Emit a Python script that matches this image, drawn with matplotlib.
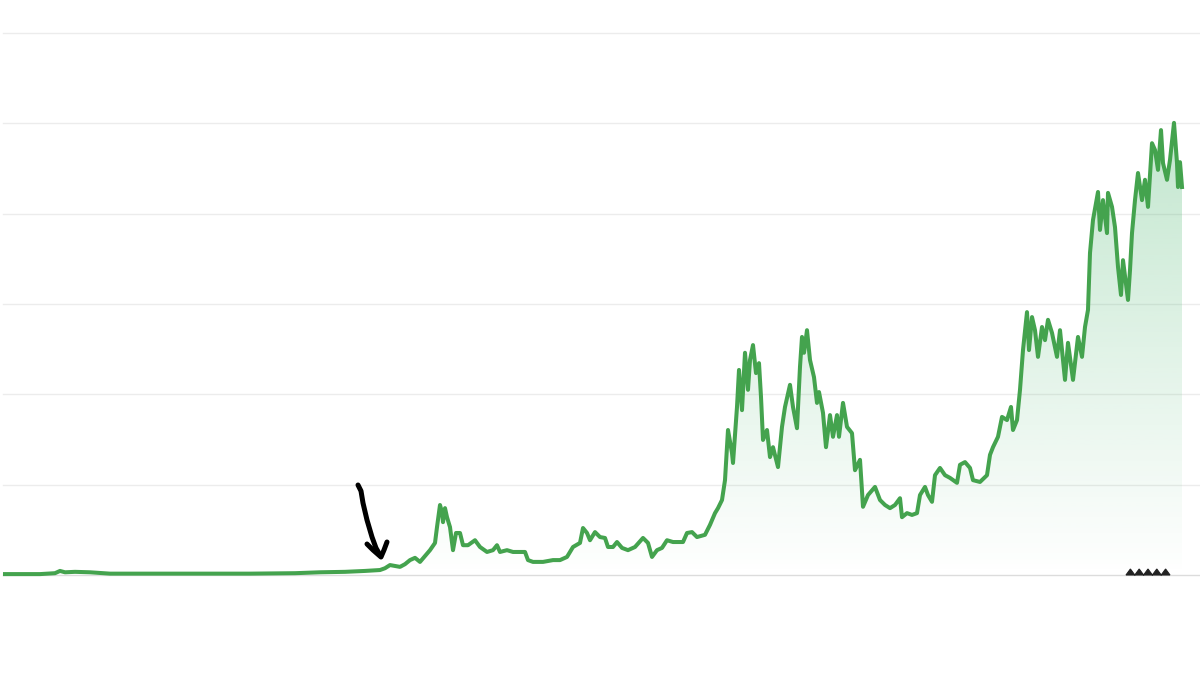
import numpy as np
import matplotlib
matplotlib.use("Agg")
import matplotlib.pyplot as plt
from matplotlib.patches import Polygon

# periodo (muestras desde el inicio) y precio (miles)
periodo = [0, 35, 50, 55, 60, 70, 85, 105, 145, 195, 245, 290, 315, 340, 360,
           375, 380, 385, 390, 395, 400, 405, 410, 415, 420, 425, 430, 432, 435,
           437, 438, 440, 442, 445, 448, 451, 455, 458, 463, 470, 475, 482, 488,
           492, 495, 502, 508, 520, 523, 528, 538, 548, 555, 562, 568, 575, 578,
           582, 585, 590, 595, 600, 603, 608, 612, 617, 623, 630, 638, 643, 647,
           652, 657, 662, 668, 678, 682, 687, 692, 700, 705, 710, 713, 717, 720,
           723, 727, 728, 732, 734, 737, 740, 743, 745, 748, 751, 754, 756, 758,
           762, 765, 768, 773, 777, 780, 785, 788, 792, 795, 797, 799, 802, 805,
           809, 812, 814, 818, 821, 825, 828, 832, 834, 838, 842, 847, 850, 855,
           858, 863, 870, 875, 880, 885, 890, 895, 897, 902, 907, 912, 915, 920,
           923, 927, 930, 935, 940, 945, 952, 955, 960, 965, 968, 975, 982, 985,
           988, 993, 997, 1002, 1006, 1008, 1012, 1015, 1018, 1022, 1024, 1027,
           1030, 1033, 1037, 1040, 1043, 1047, 1052, 1055, 1060, 1063, 1068,
           1073, 1077, 1080, 1083, 1085, 1088, 1093, 1095, 1098, 1102, 1103,
           1107, 1110, 1113, 1116, 1118, 1123, 1125, 1127, 1130, 1133, 1137,
           1140, 1143, 1147, 1150, 1153, 1156, 1158, 1162, 1165, 1169, 1172,
           1173, 1175, 1177]
precio = [0.2, 0.2, 0.4, 0.9, 0.6, 0.7, 0.6, 0.3, 0.3, 0.3, 0.3, 0.4, 0.6,
          0.7, 0.9, 1.1, 1.5, 2.2, 2.0, 1.8, 2.4, 3.3, 3.8, 2.9, 4.2, 5.5, 7.1,
          10.6, 15.5, 13.9, 11.7, 14.8, 12.8, 10.6, 5.5, 9.3, 9.3, 6.6, 6.6,
          7.7, 6.2, 5.1, 5.5, 6.6, 5.1, 5.5, 5.1, 5.1, 3.3, 2.9, 2.9, 3.3, 3.3,
          4.0, 6.2, 7.1, 10.4, 9.3, 7.7, 9.5, 8.4, 8.2, 6.2, 6.2, 7.3, 6.0,
          5.5, 6.2, 8.2, 7.1, 4.0, 5.5, 6.0, 7.7, 7.3, 7.3, 9.3, 9.5, 8.4, 8.9,
          11.1, 13.7, 14.8, 16.6, 21.0, 32.1, 27.0, 24.8, 37.2, 45.4, 36.5,
          49.2, 41.0, 47.6, 50.9, 44.7, 46.9, 39.4, 29.9, 32.1, 26.1, 28.3,
          23.9, 32.8, 37.2, 42.1, 37.2, 32.5, 46.1, 52.7, 49.2, 54.2, 47.6,
          43.8, 38.1, 40.5, 35.9, 28.3, 35.4, 30.6, 35.4, 30.6, 38.1, 32.8,
          31.4, 23.2, 25.5, 15.1, 17.7, 19.5, 16.6, 15.5, 14.8, 15.5, 17.0,
          12.8, 13.7, 13.3, 13.7, 17.7, 19.5, 17.7, 16.2, 22.1, 23.7, 22.1,
          21.5, 20.4, 24.4, 25.0, 23.7, 21.0, 20.6, 22.1, 26.6, 28.3, 30.6,
          35.0, 34.3, 37.2, 32.1, 34.3, 41.0, 49.8, 58.2, 49.8, 57.1, 54.2,
          48.3, 54.9, 52.0, 56.5, 53.6, 48.3, 54.2, 43.2, 51.4, 43.2, 52.7,
          48.3, 54.9, 58.7, 71.3, 78.6, 84.8, 76.4, 83.0, 75.7, 84.6, 81.5,
          77.0, 68.2, 62.0, 69.7, 60.9, 67.5, 75.7, 83.0, 89.0, 83.0, 87.5,
          81.5, 95.6, 94.1, 89.7, 98.5, 91.2, 87.5, 91.9, 100.1, 91.2, 85.9,
          91.4, 85.9]
niveles = [0, 20, 40, 60, 80, 100, 120]

W, H = 1200, 677
verde = "#44a34e"
relleno = "#4fb872"

fig = plt.figure(figsize=(W / 100, H / 100), dpi=100)
ax = fig.add_axes([0, 0, 1, 1])
ax.set_xlim(-5, 1195)
ax.set_ylim(-102 * 0.2214, 575 * 0.2214)
ax.axis("off")

# lineas de referencia
for n in niveles:
    ax.axhline(n, xmin=3 / W, xmax=1, color="#dcdcdc" if n == 0 else "#ececec",
               lw=1.0, zorder=0)

# relleno con degradado
t = np.array(periodo, dtype=float)
p = np.array(precio)
poly = ax.fill_between(t, p, 0, color="none", lw=0)
grad = np.zeros((256, 1, 4))
grad[..., :3] = matplotlib.colors.to_rgb(relleno)
grad[..., 3] = np.linspace(0, 0.36, 256).reshape(-1, 1)
im = ax.imshow(grad, extent=[t.min(), t.max(), 0, 105], origin="lower",
               aspect="auto", zorder=1, interpolation="bilinear")
im.set_clip_path(poly.get_paths()[0], transform=ax.transData)

ax.plot(t, p, color=verde, lw=2.9, solid_joinstyle="round", zorder=3)

# flecha dibujada a mano
def fx(x):
    return x / W

def fy(y):
    return 1 - y / H

trazo = [(358, 485), (361, 491), (363, 503), (367, 520), (372, 537),
         (376, 548), (380, 555)]
punta = [(367, 544), (373, 550), (381, 557), (384, 550), (387, 542)]
for pts in (trazo, punta):
    xs, ys = zip(*pts)
    fig.add_artist(plt.Line2D([fx(x) for x in xs], [fy(y) for y in ys],
                              transform=fig.transFigure, color="black", lw=3.6,
                              solid_capstyle="round", solid_joinstyle="round"))

# marca en zigzag
zz = [(1126, 575)]
for i in range(5):
    x0 = 1126 + i * 8.8
    zz += [(x0 + 4.4, 569.0), (x0 + 8.8, 575)]
fig.add_artist(Polygon([(fx(x), fy(y)) for x, y in zz], closed=True,
                       transform=fig.transFigure, facecolor="#222222",
                       edgecolor="#222222", lw=0.8))

fig.savefig("out.png", dpi=100)
